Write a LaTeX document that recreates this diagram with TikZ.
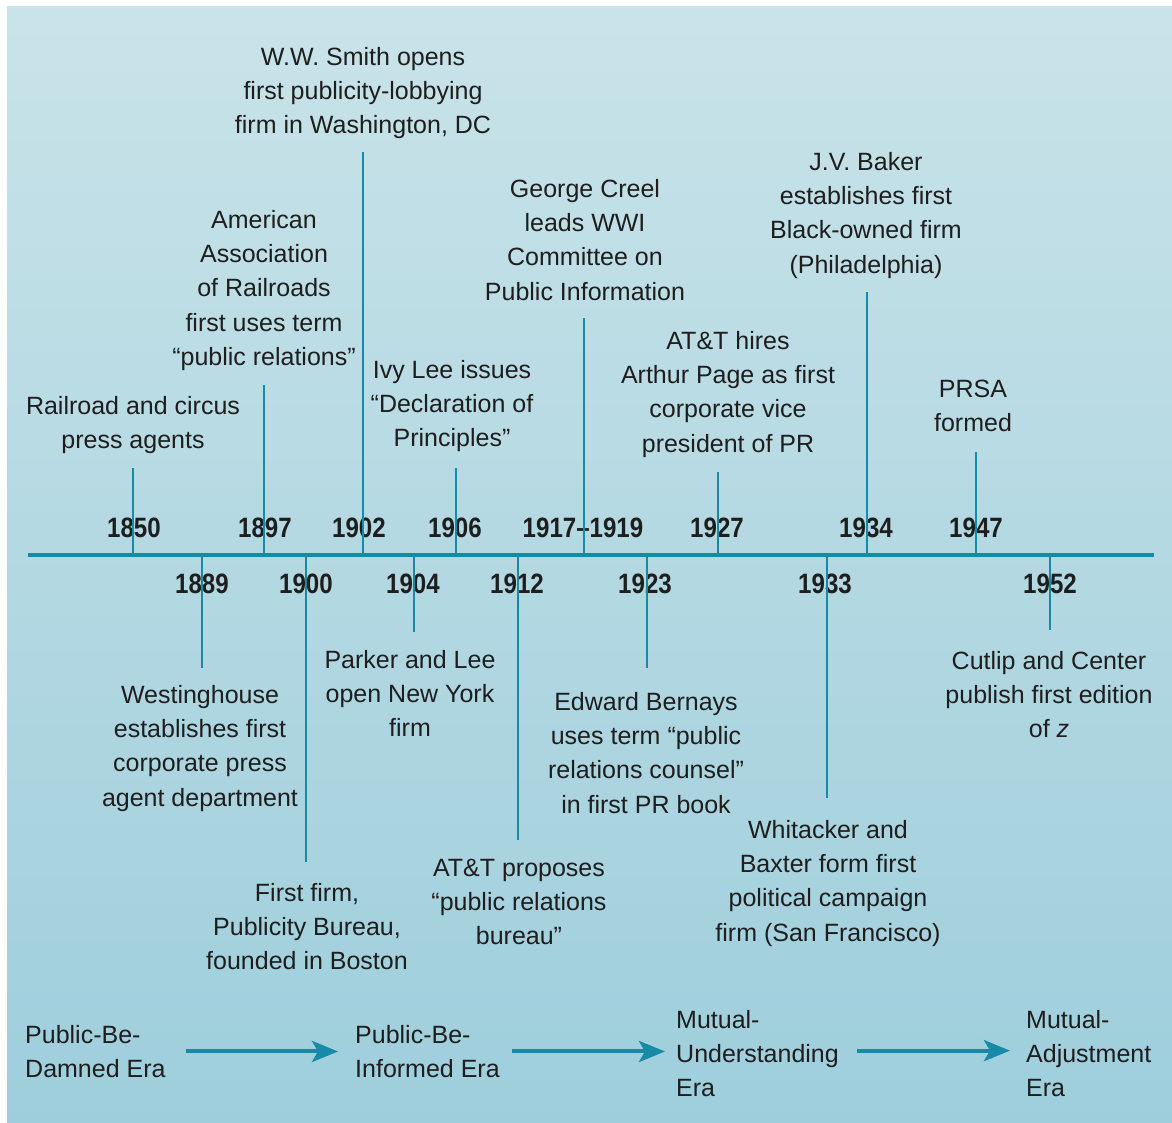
\documentclass[tikz,border=0pt]{standalone}
\usepackage{fontspec}
\setmainfont{Liberation Sans}
\newfontfamily\yearfont[FakeStretch=0.86]{Liberation Sans}
\usetikzlibrary{arrows.meta}
\definecolor{tealline}{RGB}{22,138,166}
\definecolor{bgtop}{RGB}{201,227,233}
\definecolor{bgbot}{RGB}{158,206,220}
\definecolor{txt}{RGB}{30,30,30}
\newcommand\topstr{\vrule height 24pt depth 0pt width 0pt}
\tikzset{
  evt/.style={anchor=north, align=center, inner sep=0pt, text=txt, font=\fontsize{25}{34.3}\selectfont},
  era/.style={anchor=north west, align=left, inner sep=0pt, text=txt, font=\fontsize{25}{34.3}\selectfont},
  yr/.style={anchor=base, inner sep=0pt, text=txt, font=\yearfont\bfseries\fontsize{28}{30}\selectfont},
  tickline/.style={draw=tealline, line width=2.8pt},
  axisline/.style={draw=tealline, line width=3.5pt},
  eraarrow/.style={draw=tealline, line width=4pt, -{Stealth[length=26pt,width=21pt,inset=6pt]}},
}
\begin{document}
\begin{tikzpicture}[x=1pt,y=-1pt]
\useasboundingbox (0,0) rectangle (1172,1123);
\fill[white] (0,0) rectangle (1172,1123);
\shade[top color=bgtop, bottom color=bgbot] (7,7) rectangle (1172,1123);

% event texts above
\node[evt] (ws) at (363,41) {\topstr W.W. Smith opens\\first publicity-lobbying\\firm in Washington, DC};
\node[evt] (aar) at (264,204) {\topstr American\\Association\\of Railroads\\first uses term\\“public relations”};
\node[evt] (rr) at (133,390) {\topstr Railroad and circus\\press agents};
\node[evt] (ivy) at (452,354) {\topstr Ivy Lee issues\\“Declaration of\\Principles”};
\node[evt] (creel) at (585,173) {\topstr George Creel\\leads WWI\\Committee on\\Public Information};
\node[evt] (att) at (728,325) {\topstr AT\&T hires\\Arthur Page as first\\corporate vice\\president of PR};
\node[evt] (baker) at (866,146) {\topstr J.V. Baker\\establishes first\\Black-owned firm\\(Philadelphia)};
\node[evt] (prsa) at (973,373) {\topstr PRSA\\formed};

% event texts below
\node[evt] (west) at (200,679) {\topstr Westinghouse\\establishes first\\corporate press\\agent department};
\node[evt] (parker) at (410,644) {\topstr Parker and Lee\\open New York\\firm};
\node[evt] (first) at (307,877) {\topstr First firm,\\Publicity Bureau,\\founded in Boston};
\node[evt] (attp) at (519,852) {\topstr AT\&T proposes\\“public relations\\bureau”};
\node[evt] (bernays) at (646,686) {\topstr Edward Bernays\\uses term “public\\relations counsel”\\in first PR book};
\node[evt] (whit) at (828,814) {\topstr Whitacker and\\Baxter form first\\political campaign\\firm (San Francisco)};
\node[evt] (cutlip) at (1049,645) {\topstr Cutlip and Center\\publish first edition\\of \textit{z}};

% years
\node[yr] (y1850) at (134,537) {1850};
\node[yr] (y1897) at (265,537) {1897};
\node[yr] (y1902) at (359,537) {1902};
\node[yr] (y1906) at (455,537) {1906};
\node[yr] (y1917) at (583,537) {1917–1919};
\node[yr] (y1927) at (717,537) {1927};
\node[yr] (y1934) at (866,537) {1934};
\node[yr] (y1947) at (976,537) {1947};
\node[yr] (y1889) at (202,593) {1889};
\node[yr] (y1900) at (306,593) {1900};
\node[yr] (y1904) at (413,593) {1904};
\node[yr] (y1912) at (517,593) {1912};
\node[yr] (y1923) at (645,593) {1923};
\node[yr] (y1933) at (825,593) {1933};
\node[yr] (y1952) at (1050,593) {1952};

% axis
\coordinate (axL) at (28,555);
\coordinate (axR) at (1154,555);
\draw[axisline] (axL) -- (axR);

% ticks: base on axis, end
\foreach \n/\x/\e in {1850/133/468, 1897/264/385, 1902/363/152, 1906/456/468,
                      1917/584/318, 1927/718/472, 1934/867/292, 1947/976/452,
                      1889/202/668, 1900/306/862, 1904/414/632, 1912/518/840,
                      1923/647/668, 1933/827/798, 1952/1050/630}{
  \coordinate (b\n) at (\x,555);
  \coordinate (e\n) at (\x,\e);
  \draw[tickline] (b\n) -- (e\n);
}

% eras
\node[era] (era1) at (25,1019) {\topstr Public-Be-\\Damned Era};
\node[era] (era2) at (355,1019) {\topstr Public-Be-\\Informed Era};
\node[era] (era3) at (676,1004) {\topstr Mutual-\\Understanding\\Era};
\node[era] (era4) at (1026,1004) {\topstr Mutual-\\Adjustment\\Era};

\draw[eraarrow, shorten <=20pt, shorten >=17pt] ([yshift=-3pt]era1.east) -- ([yshift=-3pt]era1.east -| era2.west);
\draw[eraarrow, shorten <=12pt, shorten >=11pt] ([yshift=-3pt]era2.east) -- ([yshift=-3pt]era2.east -| era3.west);
\draw[eraarrow, shorten <=18pt, shorten >=16pt] (era3.east) -- (era3.east -| era4.west);
\end{tikzpicture}
\end{document}
